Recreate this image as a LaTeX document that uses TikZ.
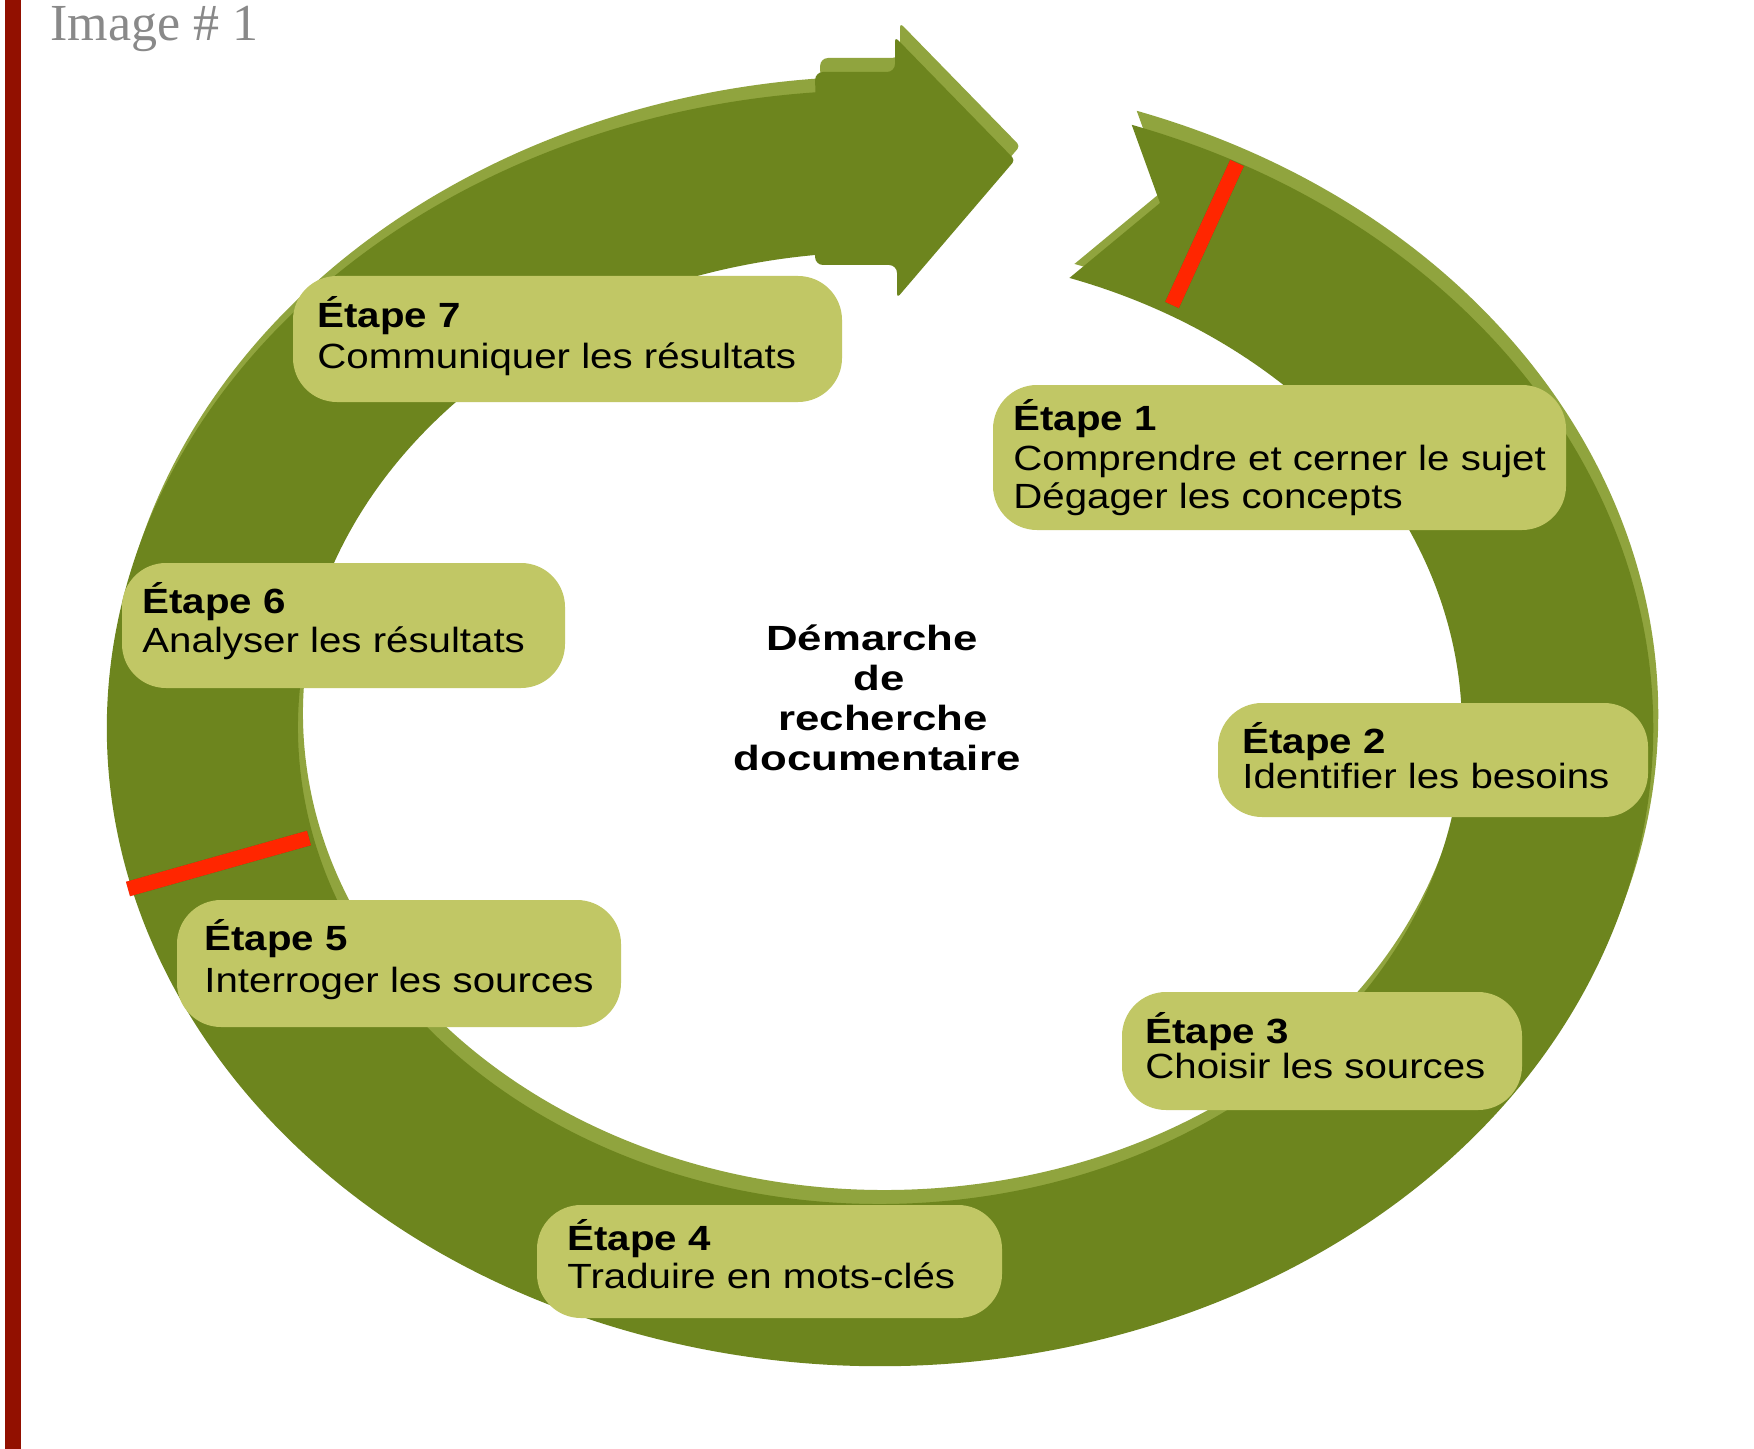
\documentclass[tikz,border=0pt]{standalone}
\usepackage{fontspec}
\setmainfont{Liberation Sans}
\newfontfamily\labfont[FakeStretch=1.15]{Liberation Sans}
\newfontfamily\ctrfont[FakeStretch=1.25]{Liberation Sans}
\newfontfamily\capfont{Liberation Serif}
\usetikzlibrary{fit}
\definecolor{ringdark}{RGB}{109,133,30}
\definecolor{ringlight}{RGB}{144,164,62}
\definecolor{boxfill}{RGB}{193,199,101}
\definecolor{redmark}{RGB}{255,38,0}
\definecolor{barred}{RGB}{146,16,0}
\definecolor{capgray}{RGB}{137,137,137}
\begin{document}
\begin{tikzpicture}[x=0.5pt,y=-0.5pt,
  stepbox/.style={draw=none, fill=boxfill, rounded corners=22pt, inner sep=0pt},
  steptitle/.style={font=\labfont\bfseries\fontsize{17.5}{20}\selectfont, inner sep=0pt, anchor=base west},
  steptext/.style={font=\labfont\fontsize{17.5}{20}\selectfont, inner sep=0pt, anchor=base west},
  centertext/.style={font=\ctrfont\bfseries\fontsize{17.5}{20}\selectfont, inner sep=0pt, anchor=base},
  captext/.style={font=\capfont\fontsize{26}{30}\selectfont, text=capgray, inner sep=0pt, anchor=base west},
  redbar/.style={draw=redmark, line width=7.5pt},
  redshadow/.style={draw=black, opacity=0.25, line width=7.5pt}]
\useasboundingbox (0,0) rectangle (1754,1449);
\fill[white] (0,0) rectangle (1754,1449);
\fill[barred] (5,0) rectangle (21,1449);
\node[captext] (cap) at (50,41) {Image \# 1};

% ring with arrow head
\def\ringshape{(1131.7,124.8) arc[start angle=-71, end angle=265.2, x radius=773, y radius=638]
  [rounded corners=4pt] -- (815,72) -- (895,72) [rounded corners=2pt] -- (895,37) -- (1015,160) -- (897,298)
  [rounded corners=4pt] -- (897,265) -- (815,265) [sharp corners]
  -- (815.1,255.0) arc[start angle=263.6, end angle=-71, x radius=582, y radius=476]
  -- (1160,203) -- cycle}
\fill[ringlight, shift={(5,-14)}] \ringshape;
\fill[ringdark] \ringshape;

% red marks
\coordinate (ra1) at (1237,163);
\coordinate (ra2) at (1172,305);
\coordinate (rb1) at (128,889);
\coordinate (rb2) at (309,838);
\draw[redshadow, shift={(3,3)}] (ra1) -- (ra2);
\draw[redshadow, shift={(3,3)}] (rb1) -- (rb2);
\draw[redbar] (ra1) -- (ra2);
\draw[redbar] (rb1) -- (rb2);

% boxes
\node[stepbox, fit={(293,276) (842,402)}] (b7) {};
\node[stepbox, fit={(993,385) (1566,530)}] (b1) {};
\node[stepbox, fit={(122,563) (565,688)}] (b6) {};
\node[stepbox, fit={(1218,703) (1648,817)}] (b2) {};
\node[stepbox, fit={(177,900) (621,1027)}] (b5) {};
\node[stepbox, fit={(1122,992) (1522,1110)}] (b3) {};
\node[stepbox, fit={(537,1205) (1002,1318)}] (b4) {};

% texts
\node[steptitle] (t1a) at (1013,430) {Étape 1};
\node[steptext]  (t1b) at (1013,470) {Comprendre et cerner le sujet};
\node[steptext]  (t1c) at (1013,508) {Dégager les concepts};
\node[steptitle] (t2a) at (1242,753) {Étape 2};
\node[steptext]  (t2b) at (1242,788) {Identifier les besoins};
\node[steptitle] (t3a) at (1145,1043) {Étape 3};
\node[steptext]  (t3b) at (1145,1078) {Choisir les sources};
\node[steptitle] (t4a) at (567,1250) {Étape 4};
\node[steptext]  (t4b) at (567,1288) {Traduire en mots-clés};
\node[steptitle] (t5a) at (204,950) {Étape 5};
\node[steptext]  (t5b) at (204,992) {Interroger les sources};
\node[steptitle] (t6a) at (142,613) {Étape 6};
\node[steptext]  (t6b) at (142,652) {Analyser les résultats};
\node[steptitle] (t7a) at (317,328) {Étape 7};
\node[steptext]  (t7b) at (317,368) {Communiquer les résultats};

% centre
\node[centertext] (c1) at (872,650) {Démarche};
\node[centertext] (c2) at (879,690) {de};
\node[centertext] (c3) at (883,730) {recherche};
\node[centertext] (c4) at (877,770) {documentaire};
\end{tikzpicture}
\end{document}
